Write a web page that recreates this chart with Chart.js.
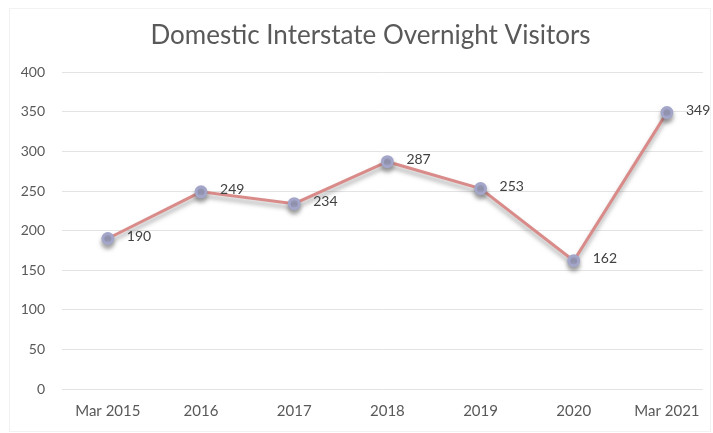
<!DOCTYPE html>
<html>
<head>
<meta charset="utf-8">
<script src="https://cdn.jsdelivr.net/npm/chart.js@4/dist/chart.umd.min.js"></script>
<style>
html,body{margin:0;padding:0;background:#fff;}
#wrap{width:713px;height:433px;position:relative;}
</style>
</head>
<body>
<div id="wrap"><canvas id="c" width="713" height="433"></canvas></div>
<script>
const categories = ["Mar 2015", "2016", "2017", "2018", "2019", "2020", "Mar 2021"];
const visitors = [190, 249, 234, 287, 253, 162, 349];
const yTicks = [0, 50, 100, 150, 200, 250, 300, 350, 400];
const chartTitle = "Domestic Interstate Overnight Visitors";

const FONT = "Lato, 'Open Sans', sans-serif";

const shadowPlugin = {
  id: 'lineShadow',
  beforeDatasetDraw(chart) {
    const ctx = chart.ctx;
    ctx.save();
    ctx.shadowColor = 'rgba(90,90,90,0.5)';
    ctx.shadowBlur = 4;
    ctx.shadowOffsetX = 0;
    ctx.shadowOffsetY = 4;
  },
  afterDatasetDraw(chart) {
    chart.ctx.restore();
  }
};

const labelPlugin = {
  id: 'pointLabels',
  afterDatasetsDraw(chart) {
    const ctx = chart.ctx;
    const meta = chart.getDatasetMeta(0);
    ctx.save();
    ctx.font = "14px " + FONT;
    ctx.fillStyle = '#404040';
    ctx.textAlign = 'left';
    ctx.textBaseline = 'middle';
    meta.data.forEach((pt, i) => {
      ctx.fillText(String(visitors[i]), pt.x + 19, pt.y - 2);
    });
    ctx.restore();
  }
};

const titleShift = {
  id: 'titleShift',
  afterLayout(chart) {
    const t = chart.titleBlock;
    if (t) { t.left += 18; t.right += 18; }
  }
};

const borderPlugin = {
  id: 'frame',
  beforeDraw(chart) {
    const ctx = chart.ctx;
    ctx.save();
    ctx.fillStyle = '#ffffff';
    ctx.fillRect(0, 0, chart.width, chart.height);
    ctx.strokeStyle = '#f2f2f2';
    ctx.lineWidth = 1;
    ctx.strokeRect(9.5, 8.5, chart.width - 12, chart.height - 10);
    ctx.restore();
  }
};

new Chart(document.getElementById('c'), {
  type: 'line',
  data: {
    datasets: [{
      data: visitors.map((v, i) => ({x: i, y: v})),
      borderColor: '#d98b89',
      borderWidth: 3,
      pointBackgroundColor: '#a3a5c9',
      pointBorderColor: '#a3a5c9',
      pointRadius: 5,
      pointStyle: 'circle',
      tension: 0,
      fill: false
    }]
  },
  options: {
    responsive: false,
    animation: false,
    events: [],
    layout: { padding: { left: 0, right: 8, top: 0, bottom: 0 } },
    plugins: {
      legend: { display: false },
      tooltip: { enabled: false },
      title: {
        display: true,
        text: chartTitle,
        color: '#595959',
        font: { family: FONT, size: 26, weight: 'normal' },
        padding: { top: 20, bottom: 21 }
      }
    },
    scales: {
      x: {
        type: 'linear',
        min: -0.492,
        max: 6.385,
        grid: { display: false, drawTicks: false },
        border: { display: false },
        afterBuildTicks(scale) {
          scale.ticks = categories.map((_, i) => ({ value: i }));
        },
        ticks: {
          autoSkip: false,
          maxRotation: 0,
          padding: 13,
          color: '#595959',
          font: { family: FONT, size: 15 },
          callback: (v) => categories[v]
        }
      },
      y: {
        min: 0,
        max: 400,
        afterBuildTicks(scale) {
          scale.ticks = yTicks.map(v => ({ value: v }));
        },
        afterFit(scale) { scale.width = 62; },
        grid: { color: '#e3e3e3', drawTicks: false, lineWidth: 1 },
        border: { display: false },
        ticks: {
          padding: 17,
          color: '#595959',
          font: { family: FONT, size: 14 }
        }
      }
    }
  },
  plugins: [borderPlugin, titleShift, shadowPlugin, labelPlugin]
});
</script>
</body>
</html>
